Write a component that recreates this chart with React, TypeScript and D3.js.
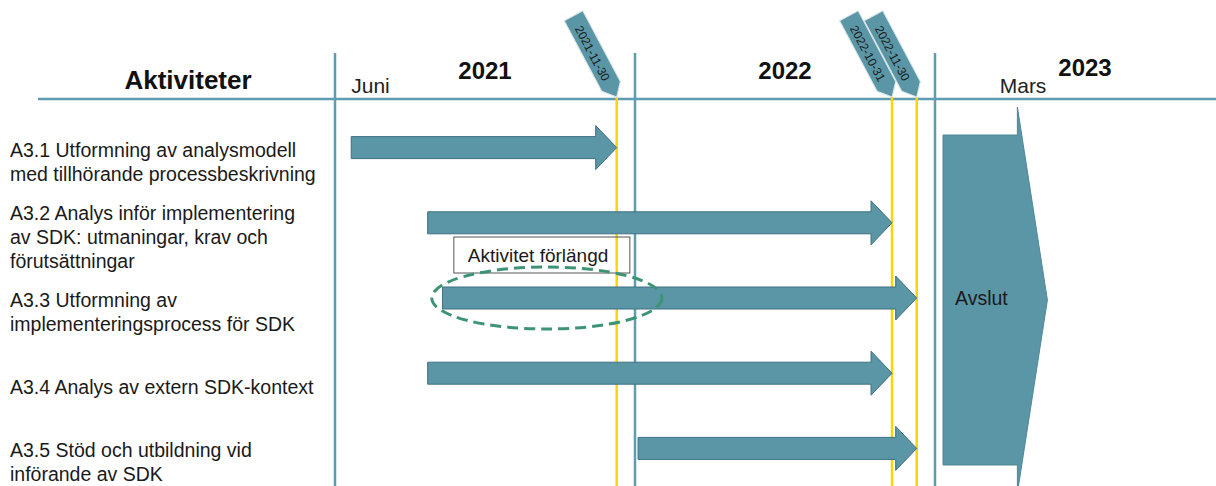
import React, { useEffect, useRef } from 'react'
import * as d3 from 'd3'

interface Task {
  id: string
  lines: string[]
  start: Date
  end: Date
}

const years = ['2021', '2022', '2023']
const deadlines = [new Date(2021, 10, 30), new Date(2022, 9, 31), new Date(2022, 10, 30)]
const deadlineLabels = ['2021-11-30', '2022-10-31', '2022-11-30']

const monthLabels = [
  { label: 'Juni', date: new Date(2021, 0, 11) },
  { label: 'Mars', date: new Date(2023, 2, 11) },
]

const tasks: Task[] = [
  {
    id: 'A3.1',
    lines: ['A3.1 Utformning av analysmodell', 'med tillhörande processbeskrivning'],
    start: new Date(2021, 0, 11),
    end: new Date(2021, 10, 30),
  },
  {
    id: 'A3.2',
    lines: ['A3.2 Analys inför implementering', 'av SDK: utmaningar, krav och', 'förutsättningar'],
    start: new Date(2021, 3, 14),
    end: new Date(2022, 9, 31),
  },
  {
    id: 'A3.3',
    lines: ['A3.3 Utformning av', 'implementeringsprocess för SDK'],
    start: new Date(2021, 4, 2),
    end: new Date(2022, 10, 30),
  },
  {
    id: 'A3.4',
    lines: ['A3.4 Analys av extern SDK-kontext'],
    start: new Date(2021, 3, 14),
    end: new Date(2022, 9, 31),
  },
  {
    id: 'A3.5',
    lines: ['A3.5 Stöd och utbildning vid', 'införande av SDK'],
    start: new Date(2021, 11, 26),
    end: new Date(2022, 10, 30),
  },
]

const avslut = { label: 'Avslut', start: new Date(2023, 0, 1), end: new Date(2023, 4, 8) }
const extension = { label: 'Aktivitet förlängd', task: 'A3.3', from: new Date(2021, 3, 19), to: new Date(2022, 0, 24) }

const TEAL = '#5b96a6'
const TEAL_DARK = '#3d7181'
const GRID = '#5e9db1'
const YELLOW = '#ffd500'
const FONT = '"Liberation Sans", Arial, sans-serif'

function arrowPoints(x0: number, x1: number, cy: number, shaftH: number, headH: number, headL: number): [number, number][] {
  return [
    [x0, cy - shaftH],
    [x1 - headL, cy - shaftH],
    [x1 - headL, cy - headH],
    [x1, cy],
    [x1 - headL, cy + headH],
    [x1 - headL, cy + shaftH],
    [x0, cy + shaftH],
  ]
}

export default function App() {
  const svgRef = useRef<SVGSVGElement>(null)

  useEffect(() => {
    if (!svgRef.current) return
    const svg = d3.select(svgRef.current)
    svg.selectAll('*').remove()

    const width = 1216
    const height = 486
    const headerY = 99
    const gridTop = 53

    const cols = d3.scaleBand().domain(years).range([335, 1235])
    const x = d3
      .scaleTime()
      .domain([new Date(2021, 0, 1), new Date(2024, 0, 1)])
      .range([343, 1243])
    const y = d3
      .scaleBand()
      .domain(tasks.map((d) => d.id))
      .range([110, height])
    const yc = (id: string) => (y(id) || 0) + y.bandwidth() / 2

    const line = d3.line()

    // column separators + header rule
    svg
      .selectAll('.col-line')
      .data(years)
      .join('line')
      .attr('x1', (d) => cols(d) || 0)
      .attr('x2', (d) => cols(d) || 0)
      .attr('y1', gridTop)
      .attr('y2', height)
      .attr('stroke', GRID)
      .attr('stroke-width', 2.5)

    svg
      .append('line')
      .attr('x1', 38)
      .attr('x2', width)
      .attr('y1', headerY)
      .attr('y2', headerY)
      .attr('stroke', GRID)
      .attr('stroke-width', 2.5)

    // header texts
    svg
      .append('text')
      .attr('x', 188)
      .attr('y', 89)
      .attr('text-anchor', 'middle')
      .attr('font-family', FONT)
      .attr('font-weight', 'bold')
      .attr('font-size', 26)
      .attr('fill', '#111')
      .text('Aktiviteter')

    svg
      .selectAll('.year')
      .data(years)
      .join('text')
      .attr('x', (d) => (cols(d) || 0) + cols.bandwidth() / 2)
      .attr('y', (d, i) => (i === 2 ? 76 : 79))
      .attr('text-anchor', 'middle')
      .attr('font-family', FONT)
      .attr('font-weight', 'bold')
      .attr('font-size', 24)
      .attr('fill', '#111')
      .text((d) => d)

    svg
      .selectAll('.month')
      .data(monthLabels)
      .join('text')
      .attr('x', (d) => x(d.date))
      .attr('y', 93)
      .attr('font-family', FONT)
      .attr('font-size', 21)
      .attr('fill', '#222')
      .text((d) => d.label)

    // deadline lines
    svg
      .selectAll('.deadline')
      .data(deadlines)
      .join('line')
      .attr('x1', (d) => x(d))
      .attr('x2', (d) => x(d))
      .attr('y1', headerY - 2)
      .attr('y2', height)
      .attr('stroke', YELLOW)
      .attr('stroke-width', 2.5)

    // deadline flags
    const flags = svg
      .selectAll('.flag')
      .data(deadlines)
      .join('g')
      .attr('transform', (d) => `translate(${x(d)},${headerY - 2}) rotate(-28)`)

    flags
      .append('path')
      .attr('d', line([[0, 0], [-10.5, -12], [-10.5, -92], [10.5, -92], [10.5, -12]]) + 'Z')
      .attr('fill', TEAL)
      .attr('stroke', '#d5e4e8')
      .attr('stroke-width', 1)

    flags
      .append('text')
      .attr('transform', 'translate(-1,-50) rotate(90)')
      .attr('text-anchor', 'middle')
      .attr('dy', '0.35em')
      .attr('font-family', FONT)
      .attr('font-size', 12)
      .attr('fill', '#1a1a1a')
      .text((d, i) => deadlineLabels[i])

    // extension note
    const ext = tasks.find((t) => t.id === extension.task)!
    const ex0 = x(extension.from)
    const ex1 = x(extension.to)
    const ecx = (ex0 + ex1) / 2
    const ecy = yc(ext.id)

    svg
      .append('rect')
      .attr('x', ecx - 93)
      .attr('y', ecy - 61)
      .attr('width', 176)
      .attr('height', 36)
      .attr('fill', 'none')
      .attr('stroke', '#555')
      .attr('stroke-width', 1)

    svg
      .append('text')
      .attr('x', ecx - 79)
      .attr('y', ecy - 36)
      .attr('font-family', FONT)
      .attr('font-size', 19)
      .attr('fill', '#1a1a1a')
      .text(extension.label)

    // task arrows
    svg
      .selectAll('.task')
      .data(tasks)
      .join('path')
      .attr('d', (d) => line(arrowPoints(x(d.start), x(d.end), yc(d.id), 11, 22, 21)) + 'Z')
      .attr('fill', TEAL)
      .attr('stroke', TEAL_DARK)
      .attr('stroke-width', 1)

    svg
      .append('ellipse')
      .attr('cx', ecx)
      .attr('cy', ecy)
      .attr('rx', (ex1 - ex0) / 2)
      .attr('ry', 31)
      .attr('fill', 'none')
      .attr('stroke', '#3d9474')
      .attr('stroke-width', 3)
      .attr('stroke-dasharray', '11 6')

    // avslut block
    const ids = tasks.map((d) => d.id)
    const acy = (yc(ids[0]) + yc(ids[ids.length - 1])) / 2 + 2
    svg
      .append('path')
      .attr('d', line(arrowPoints(x(avslut.start), x(avslut.end), acy, 165, 193, 30)) + 'Z')
      .attr('fill', TEAL)
      .attr('stroke', '#4f8797')
      .attr('stroke-width', 1)

    svg
      .append('text')
      .attr('x', x(avslut.start) + 12)
      .attr('y', acy + 5)
      .attr('font-family', FONT)
      .attr('font-size', 19.5)
      .attr('fill', '#1a1a1a')
      .text(avslut.label)

    // row labels
    const lineH = 24
    svg
      .selectAll('.label')
      .data(tasks)
      .join('text')
      .attr('font-family', FONT)
      .attr('font-size', 19.5)
      .attr('fill', '#1a1a1a')
      .each(function (d) {
        const t = d3.select(this)
        const first = yc(d.id) + 21 - ((d.lines.length - 1) * lineH) / 2
        d.lines.forEach((l, i) => {
          t.append('tspan').attr('x', 10).attr('y', first + i * lineH).text(l)
        })
      })
  }, [])

  return (
    <svg
      ref={svgRef}
      width={1216}
      height={486}
      style={{ position: 'absolute', left: 0, top: 0, background: '#fff' }}
    />
  )
}
